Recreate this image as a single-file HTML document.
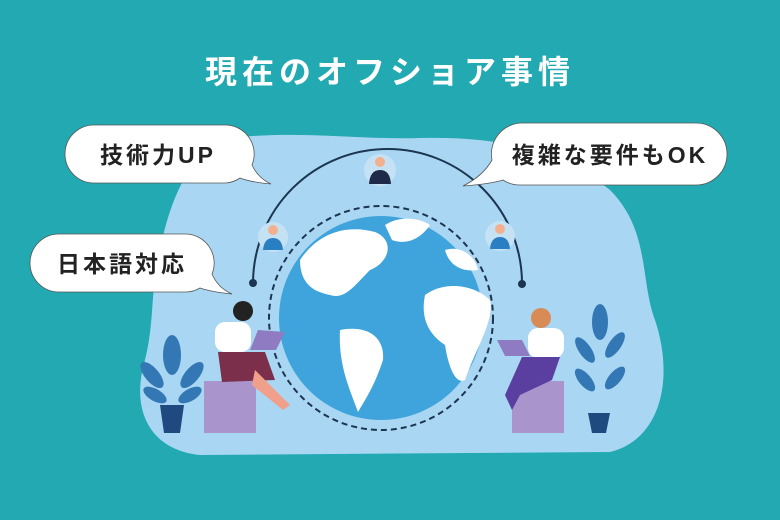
<!DOCTYPE html>
<html><head><meta charset="utf-8"><style>
html,body{margin:0;padding:0;background:#22a9b1;}
svg{display:block}
text{font-family:"Liberation Sans","Noto Sans CJK JP",sans-serif;font-weight:bold;}
</style></head><body>
<svg width="780" height="520" viewBox="0 0 780 520" xmlns="http://www.w3.org/2000/svg">
<rect width="780" height="520" fill="#22a9b1"/>
<text x="390" y="83" text-anchor="middle" font-size="32" fill="#fff" letter-spacing="5">現在のオフショア事情</text>
<path d="M230 138 C300 130 360 140 420 138 C500 136 560 150 610 190 C650 230 640 280 655 320 C675 380 660 440 610 452 L200 455 C150 450 130 410 145 360 C155 320 150 290 160 250 C170 200 190 150 230 138 Z" fill="#a9d6f2"/>
<path d="M253 283 A131 131 0 0 1 522 284" fill="none" stroke="#1c3550" stroke-width="2"/>
<circle cx="253" cy="283" r="4" fill="#1c3550"/><circle cx="522" cy="284" r="4" fill="#1c3550"/>
<circle cx="381" cy="318" r="112" fill="none" stroke="#1c3550" stroke-width="2" stroke-dasharray="6 4"/>
<circle cx="381" cy="318" r="102" fill="#3fa4dc"/>
<path d="M300 260 C320 230 350 225 375 232 C395 240 390 262 370 270 C355 285 345 300 330 295 C315 292 300 285 300 260 Z" fill="#fff"/>
<path d="M340 330 C365 325 385 335 383 360 C375 385 365 400 358 412 C350 390 338 365 340 330 Z" fill="#fff"/>
<path d="M425 295 C445 280 475 285 490 300 C495 320 475 350 465 380 C455 385 448 365 445 345 C430 335 420 320 425 295 Z" fill="#fff"/>
<path d="M385 225 C400 215 420 218 430 225 C420 240 405 245 392 240 Z" fill="#fff"/>
<path d="M445 250 C460 245 475 255 478 270 C465 272 450 268 445 250 Z" fill="#fff"/>
<g>
<circle cx="380" cy="170" r="16" fill="#c5e2f5"/><circle cx="380" cy="162" r="5" fill="#f2b08f"/><path d="M369 184 Q370 170 380 170 Q390 170 391 184 Z" fill="#1f2a4a"/>
<circle cx="273" cy="237" r="15" fill="#c5e2f5"/><circle cx="273" cy="230" r="5" fill="#f2b08f"/><path d="M263 250 Q264 238 273 238 Q282 238 283 250 Z" fill="#2a7fc2"/>
<circle cx="500" cy="236" r="15" fill="#c5e2f5"/><circle cx="500" cy="229" r="5" fill="#f2b08f"/><path d="M490 249 Q491 237 500 237 Q509 237 510 249 Z" fill="#2a7fc2"/>
</g>
<rect x="204" y="381" width="52" height="52" fill="#a995cc"/>
<rect x="512" y="381" width="52" height="52" fill="#a995cc"/>
<circle cx="243" cy="311" r="10" fill="#222"/><rect x="215" y="322" width="36" height="30" rx="10" fill="#fff"/>
<path d="M218 352 L265 352 L275 380 L222 382 Z" fill="#7b2f4a"/><path d="M255 370 L290 405 L283 410 L252 385 Z" fill="#f0a08a"/>
<path d="M258 330 L285 332 L276 350 L250 350 Z" fill="#8e7bc2"/>
<circle cx="541" cy="318" r="10" fill="#d98b56"/><rect x="528" y="328" width="36" height="30" rx="10" fill="#fff"/>
<path d="M522 357 L560 357 L552 380 L520 395 L512 410 L505 395 Z" fill="#5b3fa0"/>
<path d="M497 340 L522 340 L530 356 L505 356 Z" fill="#8e7bc2"/>
<path d="M160 405 L184 405 L180 433 L164 433 Z" fill="#1f4a80"/>
<g fill="#3378b5"><ellipse cx="172" cy="355" rx="9" ry="20"/><ellipse cx="152" cy="375" rx="7" ry="16" transform="rotate(-40 152 375)"/><ellipse cx="192" cy="375" rx="7" ry="16" transform="rotate(40 192 375)"/><ellipse cx="155" cy="395" rx="6" ry="13" transform="rotate(-60 155 395)"/><ellipse cx="190" cy="395" rx="6" ry="13" transform="rotate(60 190 395)"/></g>
<path d="M588 413 L610 413 L606 433 L592 433 Z" fill="#1f4a80"/>
<g fill="#3378b5"><ellipse cx="600" cy="322" rx="8" ry="18"/><ellipse cx="585" cy="350" rx="6" ry="15" transform="rotate(-35 585 350)"/><ellipse cx="615" cy="345" rx="6" ry="15" transform="rotate(35 615 345)"/><ellipse cx="585" cy="380" rx="6" ry="14" transform="rotate(-40 585 380)"/><ellipse cx="615" cy="378" rx="6" ry="14" transform="rotate(40 615 378)"/></g>
<g fill="#fff" stroke="#555" stroke-width="0.8">
<path d="M94 125 H226 A29 29 0 0 1 252 165 Q258 178 271 184 Q250 182 240 178 A29 29 0 0 1 226 183 H94 A29 29 0 0 1 94 125 Z"/>
<path d="M521 123 H696 A31 31 0 0 1 696 185 H521 A31 31 0 0 1 503 180 Q490 184 463 186 Q483 176 492 160 A31 31 0 0 1 521 123 Z"/>
<path d="M59 234 H186 A29 29 0 0 1 212 274 Q218 288 232 294 Q212 292 200 288 A29 29 0 0 1 186 292 H59 A29 29 0 0 1 59 234 Z"/>
</g>
<text x="158" y="163" text-anchor="middle" font-size="23" fill="#222" letter-spacing="3">技術力UP</text>
<text x="610" y="163" text-anchor="middle" font-size="23" fill="#222" letter-spacing="3">複雑な要件もOK</text>
<text x="122" y="272" text-anchor="middle" font-size="23" fill="#222" letter-spacing="3">日本語対応</text>
</svg>
</body></html>
